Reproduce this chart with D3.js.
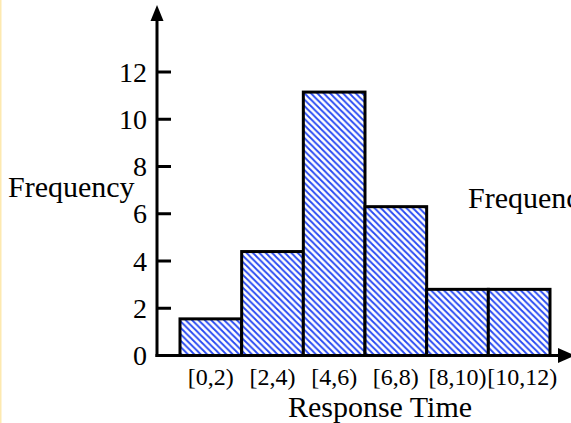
<!DOCTYPE html>
<html>
<head>
<meta charset="utf-8">
<script src="https://cdn.jsdelivr.net/npm/d3@7"></script>
<style>
  html, body { margin: 0; padding: 0; background: #fff; }
  svg { display: block; }
  text { font-family: "Liberation Serif", "Times New Roman", serif; fill: #000; }
</style>
</head>
<body>
<script>
const categories = ["[0,2)", "[2,4)", "[4,6)", "[6,8)", "[8,10)", "[10,12)"];
const binStarts = [0, 2, 4, 6, 8, 10];
const binWidth = 2;
const frequencies = [1.55, 4.4, 11.15, 6.3, 2.8, 2.8];
const yTicks = [0, 2, 4, 6, 8, 10, 12];

const W = 571, H = 423;
const svg = d3.select("body").append("svg").attr("width", W).attr("height", H);

// faint yellow left border
svg.append("line").attr("x1", 0.75).attr("x2", 0.75).attr("y1", 0).attr("y2", H)
  .attr("stroke", "#fde9b0").attr("stroke-width", 1.5);

const defs = svg.append("defs");
const pat = defs.append("pattern").attr("id", "hatch")
  .attr("patternUnits", "userSpaceOnUse").attr("width", 6.4).attr("height", 6.4);
pat.append("rect").attr("width", 6.4).attr("height", 6.4).attr("fill", "#fff");
pat.append("path").attr("d", "M-1,-1 L7.4,7.4 M-4,2.4 L1,7.4 M2.4,-4 L7.4,1")
  .attr("stroke", "#2648f2").attr("stroke-width", 1.8);

const axisX0 = 157;
const x = d3.scaleLinear().domain([0, 12]).range([180, 550]);
const y = d3.scaleLinear().domain([0, 12]).range([355.5, 72]);

// bars
svg.selectAll("rect.bar").data(frequencies).enter().append("rect")
  .attr("class", "bar")
  .attr("x", (d, i) => x(binStarts[i]))
  .attr("width", (d, i) => x(binStarts[i] + binWidth) - x(binStarts[i]))
  .attr("y", d => y(d))
  .attr("height", d => y(0) - y(d))
  .attr("fill", "url(#hatch)")
  .attr("stroke", "#000").attr("stroke-width", 3);

// y axis line + arrow
svg.append("line").attr("x1", axisX0).attr("x2", axisX0)
  .attr("y1", y(0) + 1.5).attr("y2", 18)
  .attr("stroke", "#000").attr("stroke-width", 3);
svg.append("path").attr("d", `M${axisX0},5 L${axisX0 - 6.5},21 L${axisX0 + 6.5},21 Z`).attr("fill", "#000");

// x axis line + arrow
svg.append("line").attr("x1", axisX0 - 1.5).attr("x2", 562)
  .attr("y1", y(0)).attr("y2", y(0))
  .attr("stroke", "#000").attr("stroke-width", 3);
svg.append("path").attr("d", `M575,${y(0)} L558,${y(0) - 7.5} L558,${y(0) + 7.5} Z`).attr("fill", "#000");

// y ticks
const yt = svg.append("g");
yt.selectAll("line").data(yTicks).enter().append("line")
  .attr("x1", axisX0).attr("x2", axisX0 + 14)
  .attr("y1", d => y(d)).attr("y2", d => y(d))
  .attr("stroke", "#000").attr("stroke-width", 3);
yt.selectAll("text").data(yTicks).enter().append("text")
  .attr("x", axisX0 - 10).attr("y", d => y(d) + 9.5)
  .attr("text-anchor", "end").attr("font-size", 28)
  .text(d => d);

// x tick labels
svg.selectAll("text.xl").data(categories).enter().append("text")
  .attr("class", "xl")
  .attr("x", (d, i) => x(binStarts[i] + binWidth / 2) + (i === 5 ? 3 : 0))
  .attr("y", 385)
  .attr("text-anchor", "middle").attr("font-size", 24)
  .text(d => d);

// axis titles
svg.append("text").attr("x", 8).attr("y", 197).attr("font-size", 30).text("Frequency");
svg.append("text").attr("x", 380).attr("y", 417).attr("text-anchor", "middle").attr("font-size", 30).text("Response Time");
svg.append("text").attr("x", 468).attr("y", 208).attr("font-size", 30).text("Frequency");
</script>
</body>
</html>
